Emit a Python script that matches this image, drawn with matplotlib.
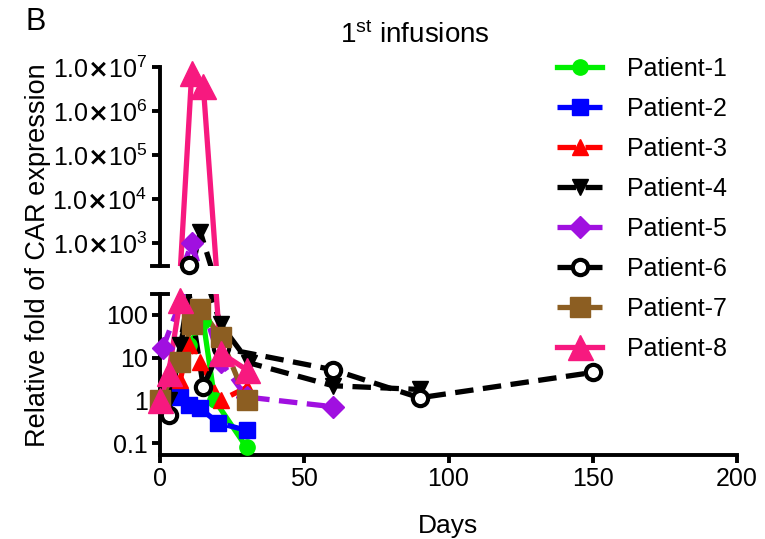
import numpy as np
import matplotlib.pyplot as plt
from matplotlib.ticker import FixedLocator, NullLocator

plt.rcParams['font.family'] = ['Liberation Sans', 'DejaVu Sans']
plt.rcParams['mathtext.default'] = 'regular'

# ---------------- data ----------------
labels = ["Patient-1", "Patient-2", "Patient-3", "Patient-4",
          "Patient-5", "Patient-6", "Patient-7", "Patient-8"]

p1_days = [10, 15, 19, 30]
p1_vals = [20, 70, 1.0, 0.08]
p2_days = [7, 10, 14, 20, 30]
p2_vals = [1.2, 0.8, 0.65, 0.3, 0.2]
p3_days = [7, 10, 14, 21, 30]
p3_vals = [3, 20, 8, 1.0, 2.0]
p4_days = [3, 7, 14, 21, 31, 60, 90]
p4_vals = [1.0, 20, 1800, 60, 7.5, 2.2, 1.8]
p5_days = [1, 11, 21, 30, 60]
p5_vals = [17, 1000, 8, 1.2, 0.71]
p6_days = [3, 10, 15, 21, 60, 90, 150]
p6_vals = [0.45, 330, 2.1, 17, 5.2, 1.15, 4.5]
p7_days = [0, 7, 11, 14, 21, 30]
p7_vals = [1.0, 8, 60, 140, 30, 1.0]
p8_days = [0, 3, 7, 11, 15, 21, 30]
p8_vals = [1.0, 4.4, 225, 7.5e6, 3.8e6, 13, 5.2]

all_days = [p1_days, p2_days, p3_days, p4_days, p5_days, p6_days, p7_days, p8_days]
all_vals = [p1_vals, p2_vals, p3_vals, p4_vals, p5_vals, p6_vals, p7_vals, p8_vals]

colors = ["#00f000", "#0000ff", "#ff0000", "#000000",
          "#a010e0", "#000000", "#8c5e22", "#f7197f"]
markers = ["o", "s", "^", "v", "D", "o", "s", "^"]
msizes = [11, 11, 12, 12, 11, 11, 14, 18]
styles = ["-", "--", "--", "--", "--", "--", "--", "-"]

# ---------------- figure ----------------
fig = plt.figure(figsize=(7.65, 5.39), dpi=100)
W, H = 765.0, 539.0
ax_lo = fig.add_axes([160 / W, (H - 455) / H, 577 / W, 161 / H])
ax_hi = fig.add_axes([160 / W, (H - 266) / H, 577 / W, 199 / H])

brk = 306
for ax in (ax_lo, ax_hi):
    ax.set_yscale("log")
    ax.set_xlim(0, 200)
    ax.patch.set_alpha(0)
    for s in ("top", "right"):
        ax.spines[s].set_visible(False)
    ax.spines["left"].set_linewidth(2.8)
    ax.spines["bottom"].set_linewidth(2.8)
    ax.tick_params(width=2.8, length=6, labelsize=18, color="black", pad=3)
    ax.yaxis.set_minor_locator(NullLocator())

ax_lo.set_ylim(0.053, brk)
ax_hi.set_ylim(brk, 1e7)

for d, v, c, m, ms, ls, lab in zip(all_days, all_vals, colors, markers, msizes, styles, labels):
    d = np.array(d, dtype=float)
    v = np.array(v, dtype=float)
    face = "white" if lab == "Patient-6" else c
    mew = 3 if lab == "Patient-6" else 1
    dash = (3.5, 1.8) if ls == "--" else (None, None)
    for ax in (ax_lo, ax_hi):
        ax.plot(d, v, color=c, ls=ls, lw=3.8, dashes=dash, zorder=2)
    lo = v <= 300
    ax_lo.plot(d[lo], v[lo], ls="none", marker=m, ms=ms, color=c, mfc=face,
               mec=c, mew=mew, clip_on=False, zorder=3)
    ax_hi.plot(d[~lo], v[~lo], ls="none", marker=m, ms=ms, color=c, mfc=face,
               mec=c, mew=mew, clip_on=False, zorder=3)
    # legend entry
    ax_hi.plot([], [], color=c, ls=ls, lw=3.8, dashes=dash, marker=m, ms=ms,
               mfc=face, mec=c, mew=mew, label=lab)

# lower axis ticks
ax_lo.yaxis.set_major_locator(FixedLocator([0.1, 1, 10, 100]))
ax_lo.set_yticklabels(["0.1", "1", "10", "100"])
ax_lo.set_xticks([0, 50, 100, 150, 200])

# upper axis ticks
hi_ticks = [1e3, 1e4, 1e5, 1e6, 1e7]
ax_hi.yaxis.set_major_locator(FixedLocator(hi_ticks))
ax_hi.set_yticklabels([r"1.0$\mathbf{\times}$10$^{%d}$" % k for k in range(3, 8)])
ax_hi.spines["bottom"].set_visible(False)
ax_hi.tick_params(axis="x", bottom=False, labelbottom=False)

# break caps
for ax in (ax_lo, ax_hi):
    ax.plot([-2.8, 2.8], [brk, brk], color="black", lw=2.8, clip_on=False)

ax_lo.set_xlabel("Days", fontsize=19, labelpad=16)
fig.text(38 / W, 1 - 255 / H, "Relative fold of CAR expression", rotation=90,
         va="center", ha="center", fontsize=19.5)
fig.text(415 / W, 1 - 35 / H, "1$^{st}$ infusions", ha="center", va="center", fontsize=20)
fig.text(36 / W, 1 - 22 / H, "B", ha="center", va="center", fontsize=22)

handles, labs = ax_hi.get_legend_handles_labels()
fig.legend(handles, labs, loc="upper left", bbox_to_anchor=(557 / W, 1 - 57 / H),
           bbox_transform=fig.transFigure, frameon=False, fontsize=18,
           handlelength=1.8, handletextpad=1.0, labelspacing=0.64,
           borderpad=0, borderaxespad=0)

fig.savefig("out.png", dpi=100)
